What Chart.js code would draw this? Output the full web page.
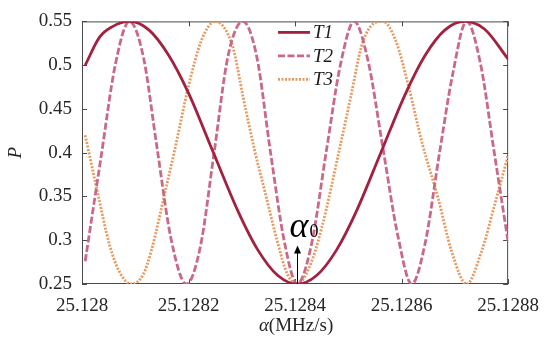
<!DOCTYPE html>
<html>
<head>
<meta charset="utf-8">
<script src="https://cdn.jsdelivr.net/npm/chart.js@4.4.1/dist/chart.umd.min.js"></script>
<style>
  html, body { margin: 0; padding: 0; background: #fff; }
  #wrap { width: 550px; height: 341px; }
</style>
</head>
<body>
<div id="wrap"><canvas id="c"></canvas></div>
<script>
// values
const t1X = [25.128006, 25.128033, 25.128057, 25.128089, 25.128126, 25.128163, 25.1282, 25.128246, 25.128293, 25.12833, 25.128367, 25.128404,
             25.128441, 25.128478, 25.128515, 25.128561, 25.128607, 25.128644, 25.128681, 25.128719, 25.128756, 25.1288];
const t1Y = [0.500, 0.532, 0.544, 0.550, 0.540, 0.511, 0.468, 0.401, 0.333, 0.289, 0.260, 0.250,
             0.260, 0.289, 0.333, 0.400, 0.467, 0.511, 0.540, 0.550, 0.541, 0.507];

const t2X = [25.128006, 25.128035, 25.128063, 25.128089, 25.128115, 25.128141, 25.128167, 25.128196, 25.128222, 25.128248,
             25.128274, 25.128302, 25.128328, 25.128354, 25.12838, 25.128404, 25.12843, 25.128459, 25.128485, 25.128511,
             25.128537, 25.128565, 25.128593, 25.128619, 25.128644, 25.128672, 25.128696, 25.128722, 25.128748, 25.128774, 25.1288];
const t2Y = [0.276, 0.392, 0.502, 0.550, 0.510, 0.405, 0.302, 0.250, 0.292, 0.400,
             0.510, 0.550, 0.510, 0.400, 0.298, 0.250, 0.293, 0.403, 0.500, 0.550,
             0.505, 0.405, 0.305, 0.250, 0.296, 0.403, 0.490, 0.550, 0.502, 0.400, 0.298];

const t3X = [25.128006, 25.128028, 25.128052, 25.128072, 25.128093, 25.128115, 25.128131, 25.128157, 25.128174, 25.1282,
             25.128224, 25.12825, 25.128283, 25.128302, 25.128324, 25.128344, 25.128367, 25.128385, 25.128404, 25.128426,
             25.12845, 25.128483, 25.128506, 25.128524, 25.128543, 25.128565, 25.128589, 25.128613, 25.128639, 25.128669,
             25.128694, 25.128722, 25.12875, 25.128774, 25.1288];
const t3Y = [0.420, 0.358, 0.294, 0.262, 0.250, 0.261, 0.290, 0.358, 0.403, 0.476,
             0.528, 0.550, 0.521, 0.465, 0.403, 0.354, 0.298, 0.262, 0.250, 0.268,
             0.314, 0.403, 0.468, 0.520, 0.545, 0.550, 0.528, 0.476, 0.410, 0.347,
             0.287, 0.250, 0.287, 0.339, 0.397];

const xTicks = [25.128, 25.1282, 25.1284, 25.1286, 25.1288];
const xTickLabels = ['25.128', '25.1282', '25.1284', '25.1286', '25.1288'];
const yTicks = [0.25, 0.3, 0.35, 0.4, 0.45, 0.5, 0.55];
const yTickLabels = ['0.25', '0.3', '0.35', '0.4', '0.45', '0.5', '0.55'];

const seriesNames = ['T1', 'T2', 'T3'];
const alpha0 = 25.128404;   // marked point
const arrowTop = 0.294;

const serif = "'Liberation Serif', 'Times New Roman', serif";
Chart.defaults.font.family = serif;
Chart.defaults.color = '#262626';

function pts(xs, ys) {
    return xs.map((x, i) => ({ x: x, y: ys[i] }));
}

// boite, ticks interieurs, legende, annotation
const decorPlugin = {
    id: 'decor',
    beforeDatasetsDraw(chart) {
        const { ctx, chartArea: a, scales: { x, y } } = chart;
        ctx.save();
        ctx.strokeStyle = '#4a4a4a';
        ctx.lineWidth = 1;
        ctx.strokeRect(a.left + 0.5, a.top + 0.5, a.right - a.left - 1, a.bottom - a.top - 1);
        ctx.beginPath();
        xTicks.forEach(v => {
            const px = Math.round(x.getPixelForValue(v)) + 0.5;
            ctx.moveTo(px, a.bottom); ctx.lineTo(px, a.bottom - 5);
            ctx.moveTo(px, a.top); ctx.lineTo(px, a.top + 5);
        });
        yTicks.forEach(v => {
            const py = Math.round(y.getPixelForValue(v)) + 0.5;
            ctx.moveTo(a.left, py); ctx.lineTo(a.left + 5, py);
            ctx.moveTo(a.right, py); ctx.lineTo(a.right - 5, py);
        });
        ctx.stroke();
        ctx.restore();
    },
    afterDatasetsDraw(chart) {
        const { ctx, chartArea: a, scales: { x, y } } = chart;
        ctx.save();

        // legende
        chart.data.datasets.forEach((ds, i) => {
            const ly = a.top + 11 + i * 23.5;
            ctx.strokeStyle = ds.borderColor;
            ctx.lineWidth = ds.borderWidth;
            ctx.setLineDash(ds.borderDash || []);
            ctx.beginPath();
            ctx.moveTo(a.left + 196, ly);
            ctx.lineTo(a.left + 228, ly);
            ctx.stroke();
            ctx.setLineDash([]);
            ctx.fillStyle = '#1a1a1a';
            ctx.font = 'italic 19px ' + serif;
            ctx.textBaseline = 'middle';
            ctx.textAlign = 'left';
            ctx.fillText(seriesNames[i], a.left + 231, ly + 1);
        });

        // fleche alpha0
        const ax = Math.round(x.getPixelForValue(alpha0)) + 0.5;
        const yb = y.getPixelForValue(0.25);
        const yt = y.getPixelForValue(arrowTop);
        ctx.strokeStyle = '#000';
        ctx.fillStyle = '#000';
        ctx.lineWidth = 1;
        ctx.beginPath();
        ctx.moveTo(ax, yb);
        ctx.lineTo(ax, yt + 6);
        ctx.stroke();
        ctx.beginPath();
        ctx.moveTo(ax, yt);
        ctx.lineTo(ax - 3.5, yt + 8);
        ctx.lineTo(ax + 3.5, yt + 8);
        ctx.closePath();
        ctx.fill();

        ctx.textBaseline = 'alphabetic';
        ctx.textAlign = 'left';
        ctx.font = 'italic 36px ' + serif;
        ctx.fillText('α', ax - 8, yt - 8);
        const aw = ctx.measureText('α').width;
        ctx.font = '18px ' + serif;
        ctx.fillText('0', ax - 8 + aw + 1, yt - 8);

        // titres des axes
        ctx.fillStyle = '#262626';
        ctx.font = 'italic 19px ' + serif;
        const w1 = ctx.measureText('α').width;
        ctx.font = '19px ' + serif;
        const w2 = ctx.measureText('(MHz/s)').width;
        const cx = (a.left + a.right) / 2 + 1;
        let sx = cx - (w1 + w2) / 2;
        const ty = 331;
        ctx.font = 'italic 19px ' + serif;
        ctx.fillText('α', sx, ty);
        ctx.font = '19px ' + serif;
        ctx.fillText('(MHz/s)', sx + w1, ty);

        ctx.translate(21, (a.top + a.bottom) / 2);
        ctx.rotate(-Math.PI / 2);
        ctx.textAlign = 'center';
        ctx.font = 'italic 19px ' + serif;
        ctx.fillText('P', 0, 0);
        ctx.restore();
    }
};

new Chart(document.getElementById('c'), {
    type: 'line',
    data: {
        datasets: [
            {
                label: seriesNames[0],
                data: pts(t1X, t1Y),
                borderColor: '#A3213F',
                borderWidth: 2.8,
                pointRadius: 0,
                cubicInterpolationMode: 'monotone'
            },
            {
                label: seriesNames[1],
                data: pts(t2X, t2Y),
                borderColor: '#CB6886',
                borderWidth: 2.8,
                borderDash: [7, 2.5],
                pointRadius: 0,
                cubicInterpolationMode: 'monotone'
            },
            {
                label: seriesNames[2],
                data: pts(t3X, t3Y),
                borderColor: '#E7995F',
                borderWidth: 2.8,
                borderDash: [2, 1.5],
                pointRadius: 0,
                cubicInterpolationMode: 'monotone'
            }
        ]
    },
    options: {
        responsive: true,
        maintainAspectRatio: false,
        animation: false,
        layout: { padding: { left: 0, right: 36, top: 17, bottom: 0 } },
        plugins: { legend: { display: false }, tooltip: { enabled: false } },
        scales: {
            x: {
                type: 'linear',
                min: 25.128,
                max: 25.1288,
                grid: { display: false, drawTicks: false },
                border: { display: false },
                afterBuildTicks: s => { s.ticks = xTicks.map(v => ({ value: v })); },
                afterFit: s => { s.height = 57; },
                ticks: {
                    padding: 11,
                    maxRotation: 0,
                    autoSkip: false,
                    font: { size: 19 },
                    callback: (v, i) => xTickLabels[i]
                }
            },
            y: {
                min: 0.25,
                max: 0.55,
                grid: { display: false, drawTicks: false },
                border: { display: false },
                afterBuildTicks: s => { s.ticks = yTicks.map(v => ({ value: v })); },
                afterFit: s => { s.width = 82; },
                ticks: {
                    padding: 10,
                    autoSkip: false,
                    font: { size: 19 },
                    callback: (v, i) => yTickLabels[i]
                }
            }
        }
    },
    plugins: [decorPlugin]
});
</script>
</body>
</html>
